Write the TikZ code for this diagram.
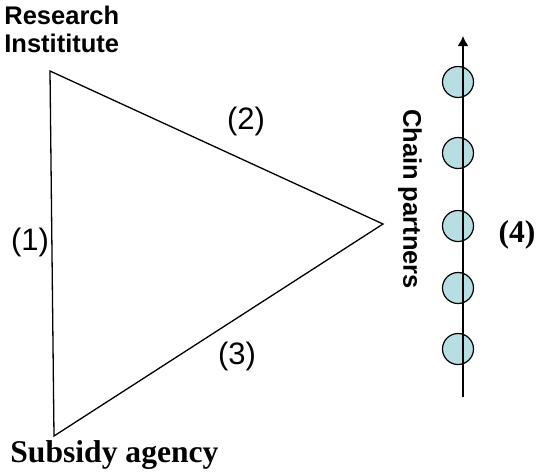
\documentclass[tikz,border=0pt]{standalone}
\usepackage{fontspec}
\setmainfont{Liberation Serif}
\newfontfamily\arialfont{Liberation Sans}
\usepackage{xcolor}
\usetikzlibrary{arrows.meta}
\definecolor{partnerblue}{RGB}{183,222,226}

\tikzset{
  corner/.style={font=\arialfont\bfseries\fontsize{12.75}{14}\selectfont, inner sep=0pt, align=left},
  agency/.style={font=\bfseries\fontsize{15.8}{17}\selectfont, inner sep=0pt},
  link/.style={font=\arialfont\fontsize{15.5}{17}\selectfont, inner sep=0pt},
  partner/.style={circle, draw=black, line width=0.6pt, fill=partnerblue, minimum size=15.5pt, inner sep=0pt}
}

\begin{document}
\begin{tikzpicture}[x=0.5pt, y=-0.5pt]
\useasboundingbox (0,0) rectangle (537,472);

% triangle corners
\coordinate (ri) at (50,71);
\coordinate (sa) at (54,436);
\coordinate (cp) at (383,224);
\draw[line width=0.65pt] (ri) -- (cp) -- (sa) -- cycle;

\node[corner, anchor=north west] (rilabel) at (4,6) {Research\\Instititute};
\node[agency, anchor=base west] (salabel) at (10,462) {Subsidy agency};

% link numbers
\node[link] (l1) at (30,242) {(1)};
\node[link] (l2) at (246,121) {(2)};
\node[link] (l3) at (237,356) {(3)};

% chain of partners
\foreach \y [count=\i] in {82,153,226,288,349}
  \node[partner] (p\i) at (458,\y) {};
\coordinate (chainlow) at (463,397);
\coordinate (chaintop) at (463,36);
\draw[line width=0.8pt, -{Latex[length=5pt,width=5.5pt]}] (chainlow) -- (chaintop);

\node[corner, rotate=-90] (cplabel) at (410,199) {Chain partners};
\node[agency] (l4) at (517,235) {(4)};

\end{tikzpicture}
\end{document}
